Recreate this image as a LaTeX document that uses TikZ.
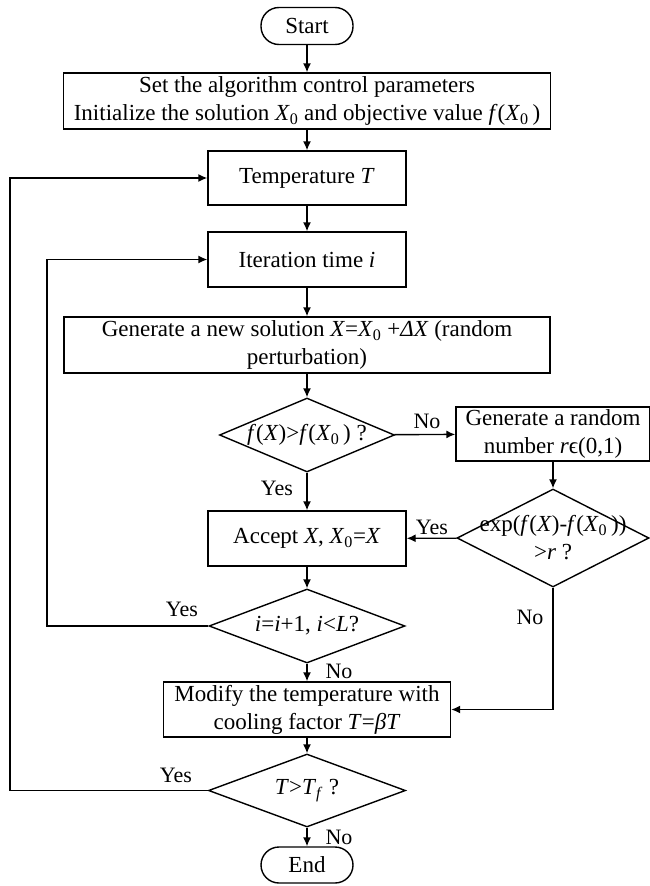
\documentclass[tikz,border=0pt]{standalone}
\usepackage{fontspec}
\setmainfont{Liberation Serif}
\usetikzlibrary{shapes.geometric,arrows.meta}
\newcommand{\Xo}{\textit{X}\textsubscript{0}}
\begin{document}
\begin{tikzpicture}[x=1pt,y=-1pt,
  line width=1.4pt,
  every node/.style={font=\fontsize{23}{28}\selectfont},
  procbox/.style={draw, rectangle, inner sep=0pt, align=center},
  term/.style={draw, rectangle, rounded corners=18pt, inner sep=0pt},
  dia/.style={draw, diamond, inner sep=0pt},
  arr/.style={-{Latex[length=9pt,width=8pt]}},
  lbl/.style={font=\fontsize{22}{26}\selectfont, inner sep=0pt}]
\useasboundingbox (0,0) rectangle (650,886);

\node[term, minimum width=92pt, minimum height=37pt] (start) at (307,26) {Start};
\node[procbox, minimum width=487pt, minimum height=56pt] (box1) at (307,101)
  {Set the algorithm control parameters\\Initialize the solution \Xo\ and objective value \textit{f}(\Xo\,)};
\node[procbox, minimum width=198pt, minimum height=54pt] (temp) at (307,178) {Temperature \textit{T}};
\node[procbox, minimum width=198pt, minimum height=55pt] (iter) at (307,259.5) {Iteration time \textit{i}};
\node[procbox, minimum width=486pt, minimum height=56pt] (gen) at (307,345)
  {Generate a new solution \textit{X}=\Xo\ +\textit{ΔX} (random\\perturbation)};
\node[dia, minimum width=175pt, minimum height=74pt,
  label={center:\textit{f}(\textit{X})>\textit{f}(\Xo\,) ?}] (d1) at (307,435) {};
\node[procbox, minimum width=194pt, minimum height=54pt] (rand) at (553,434)
  {Generate a random\\number \textit{r}ϵ(0,1)};
\node[dia, minimum width=192pt, minimum height=98pt,
  label={[align=center]center:exp(\textit{f}(\textit{X})-\textit{f}(\Xo\,))\\>\textit{r} ?}] (d2) at (553,538) {};
\node[procbox, minimum width=198pt, minimum height=55pt] (acc) at (307,538.5) {Accept \textit{X}, \Xo=\textit{X}};
\node[dia, minimum width=196pt, minimum height=74pt,
  label={center:\textit{i}=\textit{i}+1, \textit{i}<\textit{L}?}] (d3) at (307,626) {};
\node[procbox, minimum width=287pt, minimum height=55pt] (mod) at (307,709.5)
  {Modify the temperature with\\cooling factor \textit{T}=\textit{β}\textit{T}};
\node[dia, minimum width=197pt, minimum height=73pt,
  label={center:\textit{T}>\textit{T}\textsubscript{\textit{f}} ?}] (d4) at (307,790.5) {};
\node[term, minimum width=92pt, minimum height=36pt] (end) at (307,865) {End};

\coordinate (l1) at (47,626);
\coordinate (l2) at (10,790.5);
\coordinate (r1) at (553,709.5);

\draw[arr] (start) -- (box1);
\draw[arr] (box1) -- (temp);
\draw[arr] (temp) -- (iter);
\draw[arr] (iter) -- (gen);
\draw[arr] (gen) -- (d1);
\draw[arr] (d1) -- (acc);
\draw[arr] (d1) -- (rand);
\draw[arr] (rand) -- (d2);
\draw[arr] (d2) -- (acc);
\draw[arr] (d2.south) -- (r1) -- (mod.east);
\draw[arr] (acc) -- (d3);
\draw[arr] (d3) -- (mod);
\draw[arr] (d3.west) -- (l1) |- (iter.west);
\draw[arr] (mod) -- (d4);
\draw[arr] (d4) -- (end);
\draw[arr] (d4.west) -- (l2) |- (temp.west);

\node[lbl] (yes1) at (277,488) {Yes};
\node[lbl] (no1) at (427,421) {No};
\node[lbl] (yes2) at (432,527) {Yes};
\node[lbl] (no2) at (530,617) {No};
\node[lbl] (yes3) at (182,609) {Yes};
\node[lbl] (no3) at (339,671) {No};
\node[lbl] (yes4) at (176,775) {Yes};
\node[lbl] (no4) at (339,837) {No};
\end{tikzpicture}
\end{document}
